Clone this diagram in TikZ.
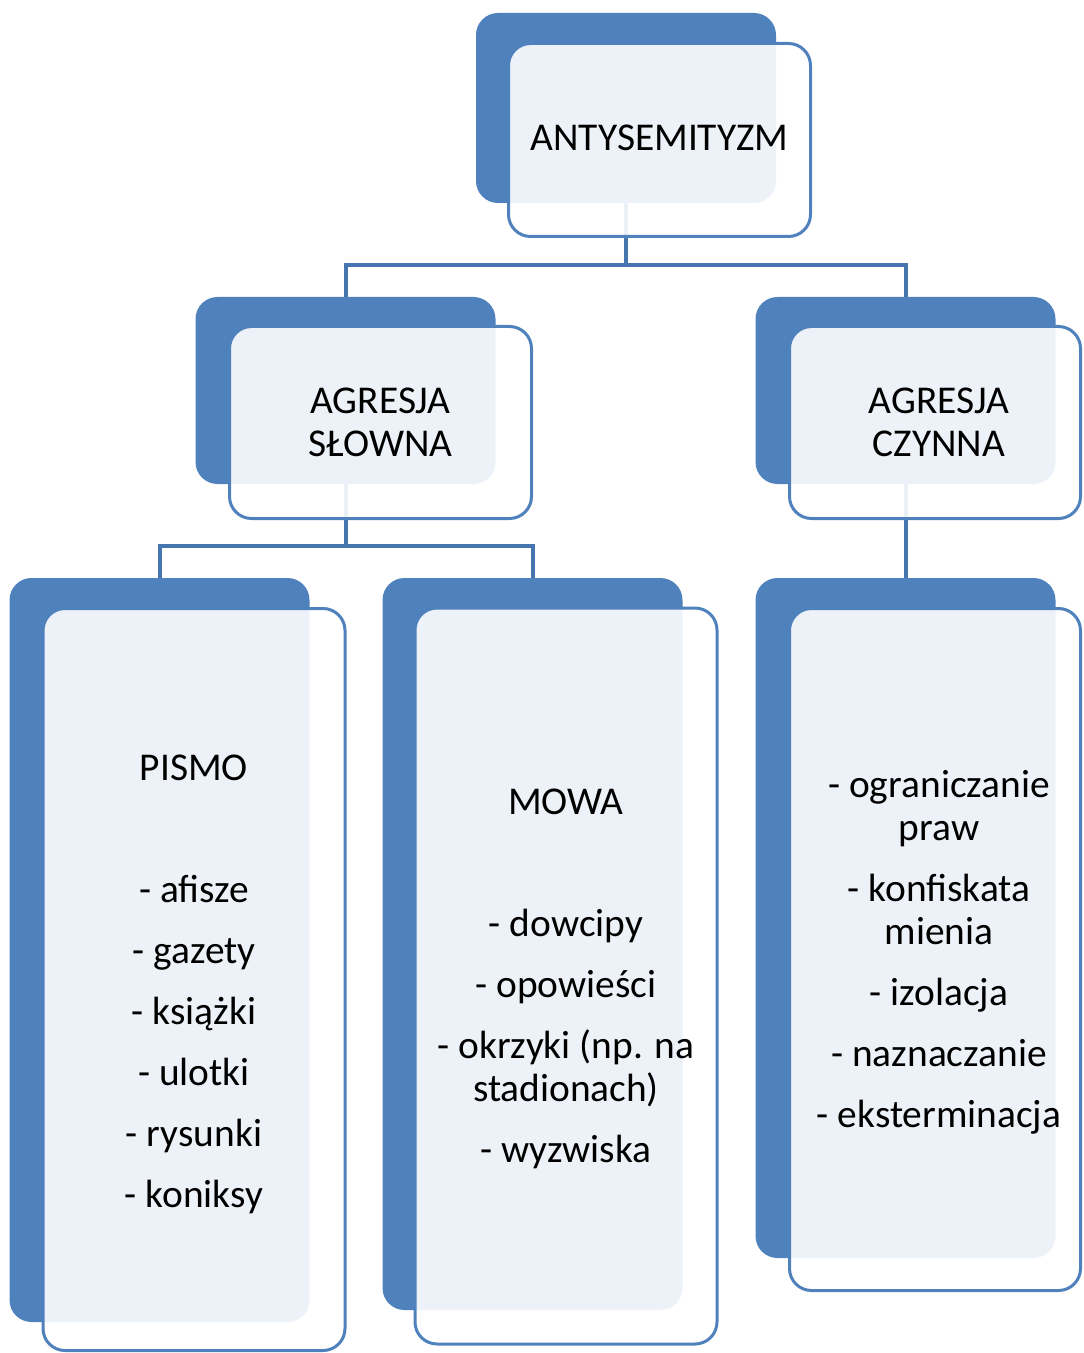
\documentclass[tikz,border=0pt]{standalone}
\usepackage{fontspec}
\setmainfont{Carlito}
\usetikzlibrary{positioning}
\definecolor{boxblue}{HTML}{4F81BD}
\definecolor{linkblue}{HTML}{4675AF}

\begin{document}
\begin{tikzpicture}[x=0.5pt, y=-0.5pt,
    back/.style={
        rectangle, rounded corners=11pt, fill=boxblue,
        minimum width=150pt, inner sep=0pt
    },
    front/.style={
        rectangle, rounded corners=11pt, draw=boxblue, line width=1.5pt,
        fill=white, fill opacity=0.9, text opacity=1,
        minimum width=151pt, align=center, inner sep=0pt,
        font=\fontsize{19.7}{21.5}\selectfont
    },
    txt/.style={
        align=center, inner sep=0pt,
        font=\fontsize{19.7}{21.5}\selectfont
    },
    link/.style={draw=linkblue, line width=2pt}
]
\useasboundingbox (0,0) rectangle (1083,1353);

% back boxes
\node[back, minimum height=95pt]   (anty)   at (626,108)     {};
\node[back, minimum height=93.5pt] (slowna) at (345.5,390.5) {};
\node[back, minimum height=93.5pt] (czynna) at (905.5,390.5) {};
\node[back, minimum height=372pt]  (pismo)  at (159.5,950)   {};
\node[back, minimum height=366pt]  (mowa)   at (532.5,944)   {};
\node[back, minimum height=340pt]  (czyny)  at (905.5,918)   {};

% connectors
\draw[link] (anty.south) -- ++(0,62) -| (slowna.north);
\draw[link] (anty.south) -- ++(0,62) -| (czynna.north);
\draw[link] (slowna.south) -- ++(0,62) -| (pismo.north);
\draw[link] (slowna.south) -- ++(0,62) -| (mowa.north);
\draw[link] (czynna.south) -- (czyny.north);

% front boxes
\node[front, minimum height=96.5pt] (antyT) at (659.5,140) {};
\node[front, minimum height=96pt] (slownaT) at (380.5,422.5) {};
\node[front, minimum height=96pt, minimum width=145.5pt] (czynnaT) at (935,422.5) {};
\node[front, minimum height=371pt] (pismoT) at (194,979.5) {};
\node[front, minimum height=368pt] (mowaT) at (566,976) {};
\node[front, minimum height=341pt, minimum width=145.5pt] (czynyT) at (935,949.5) {};

% texts
\node[txt] (antyL) at ([yshift=1pt]antyT) {ANTYSEMITYZM};
\node[txt] (slownaL) at (slownaT) {AGRESJA\\SŁOWNA};
\node[txt] (czynnaL) at ([xshift=2pt]czynnaT) {AGRESJA\\CZYNNA};
\node[txt] (pismoL) at ([yshift=-2.5pt]pismoT) {
    PISMO\\[39.5pt]
    - afisze\\[9pt]
    - gazety\\[9pt]
    - książki\\[9pt]
    - ulotki\\[9pt]
    - rysunki\\[9pt]
    - koniksy
};
\node[txt] (mowaL) at ([yshift=-1.5pt]mowaT) {
    MOWA\\[39.5pt]
    - dowcipy\\[9pt]
    - opowieści\\[9pt]
    - okrzyki (np. na\\stadionach)\\[9pt]
    - wyzwiska
};
\node[txt] (czynyL) at ([xshift=2pt, yshift=-1.5pt]czynyT) {
    - ograniczanie\\praw\\[9pt]
    - konfiskata\\mienia\\[9pt]
    - izolacja\\[9pt]
    - naznaczanie\\[9pt]
    - eksterminacja
};

\end{tikzpicture}
\end{document}
